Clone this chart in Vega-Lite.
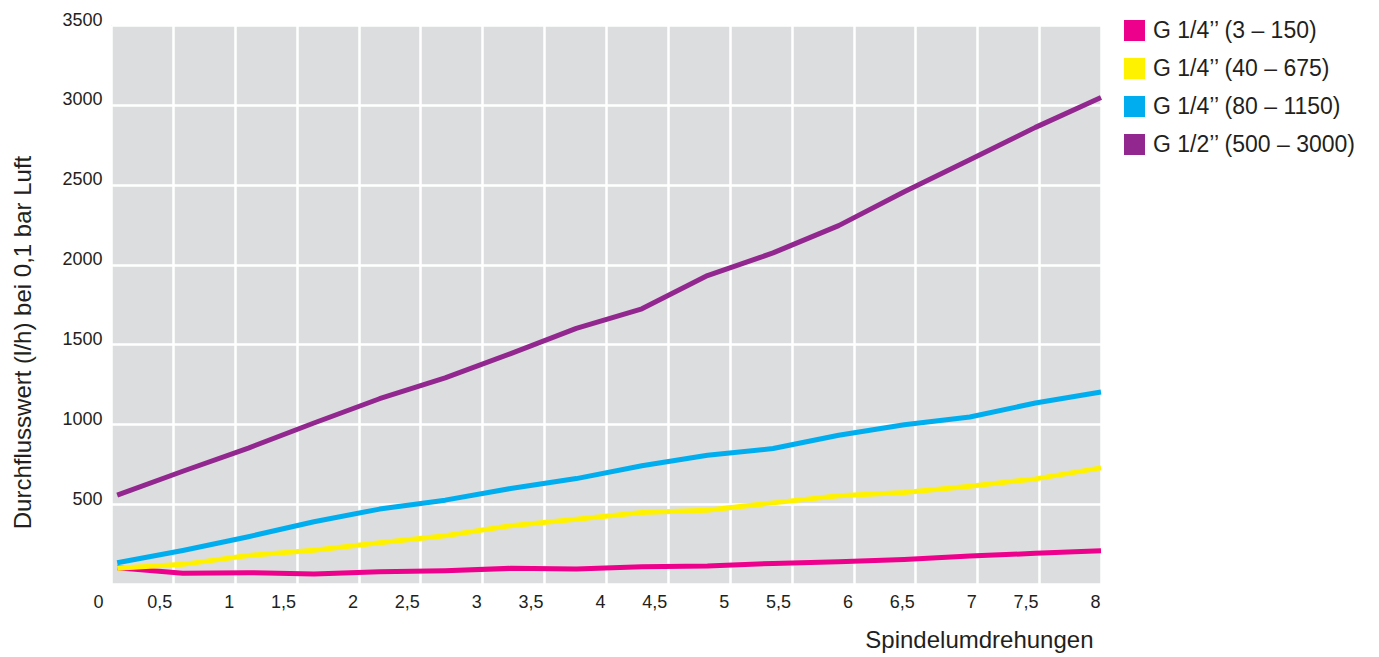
{
  "$schema": "https://vega.github.io/schema/vega-lite/v6.json",
  "width": 990,
  "height": 559,
  "autosize": {"type": "none"},
  "padding": {"left": 111, "top": 25, "right": 278, "bottom": 73},
  "background": "white",
  "config": {
    "font": "Liberation Sans",
    "view": {"fill": "#DCDDDF", "stroke": null}
  },
  "data": {
    "values": [
      {"s": "G 1/4’’ (3 – 150)", "x": 0.05, "y": 102},
      {"s": "G 1/4’’ (3 – 150)", "x": 0.58, "y": 67},
      {"s": "G 1/4’’ (3 – 150)", "x": 1.11, "y": 71},
      {"s": "G 1/4’’ (3 – 150)", "x": 1.64, "y": 62},
      {"s": "G 1/4’’ (3 – 150)", "x": 2.17, "y": 77},
      {"s": "G 1/4’’ (3 – 150)", "x": 2.70, "y": 83},
      {"s": "G 1/4’’ (3 – 150)", "x": 3.23, "y": 98},
      {"s": "G 1/4’’ (3 – 150)", "x": 3.76, "y": 94},
      {"s": "G 1/4’’ (3 – 150)", "x": 4.29, "y": 108},
      {"s": "G 1/4’’ (3 – 150)", "x": 4.82, "y": 112},
      {"s": "G 1/4’’ (3 – 150)", "x": 5.35, "y": 129},
      {"s": "G 1/4’’ (3 – 150)", "x": 5.88, "y": 140},
      {"s": "G 1/4’’ (3 – 150)", "x": 6.41, "y": 154},
      {"s": "G 1/4’’ (3 – 150)", "x": 6.94, "y": 175},
      {"s": "G 1/4’’ (3 – 150)", "x": 7.47, "y": 192},
      {"s": "G 1/4’’ (3 – 150)", "x": 8.0, "y": 208},
      {"s": "G 1/4’’ (40 – 675)", "x": 0.05, "y": 98},
      {"s": "G 1/4’’ (40 – 675)", "x": 0.58, "y": 123},
      {"s": "G 1/4’’ (40 – 675)", "x": 1.11, "y": 179},
      {"s": "G 1/4’’ (40 – 675)", "x": 1.64, "y": 212},
      {"s": "G 1/4’’ (40 – 675)", "x": 2.17, "y": 258},
      {"s": "G 1/4’’ (40 – 675)", "x": 2.70, "y": 302},
      {"s": "G 1/4’’ (40 – 675)", "x": 3.23, "y": 365},
      {"s": "G 1/4’’ (40 – 675)", "x": 3.76, "y": 406},
      {"s": "G 1/4’’ (40 – 675)", "x": 4.29, "y": 448},
      {"s": "G 1/4’’ (40 – 675)", "x": 4.82, "y": 462},
      {"s": "G 1/4’’ (40 – 675)", "x": 5.35, "y": 508},
      {"s": "G 1/4’’ (40 – 675)", "x": 5.88, "y": 552},
      {"s": "G 1/4’’ (40 – 675)", "x": 6.41, "y": 573},
      {"s": "G 1/4’’ (40 – 675)", "x": 6.94, "y": 612},
      {"s": "G 1/4’’ (40 – 675)", "x": 7.47, "y": 658},
      {"s": "G 1/4’’ (40 – 675)", "x": 8.0, "y": 727},
      {"s": "G 1/4’’ (80 – 1150)", "x": 0.05, "y": 133},
      {"s": "G 1/4’’ (80 – 1150)", "x": 0.58, "y": 210},
      {"s": "G 1/4’’ (80 – 1150)", "x": 1.11, "y": 296},
      {"s": "G 1/4’’ (80 – 1150)", "x": 1.64, "y": 390},
      {"s": "G 1/4’’ (80 – 1150)", "x": 2.17, "y": 469},
      {"s": "G 1/4’’ (80 – 1150)", "x": 2.70, "y": 525},
      {"s": "G 1/4’’ (80 – 1150)", "x": 3.23, "y": 598},
      {"s": "G 1/4’’ (80 – 1150)", "x": 3.76, "y": 660},
      {"s": "G 1/4’’ (80 – 1150)", "x": 4.29, "y": 740},
      {"s": "G 1/4’’ (80 – 1150)", "x": 4.82, "y": 806},
      {"s": "G 1/4’’ (80 – 1150)", "x": 5.35, "y": 848},
      {"s": "G 1/4’’ (80 – 1150)", "x": 5.88, "y": 931},
      {"s": "G 1/4’’ (80 – 1150)", "x": 6.41, "y": 997},
      {"s": "G 1/4’’ (80 – 1150)", "x": 6.94, "y": 1046},
      {"s": "G 1/4’’ (80 – 1150)", "x": 7.47, "y": 1133},
      {"s": "G 1/4’’ (80 – 1150)", "x": 8.0, "y": 1202},
      {"s": "G 1/2’’ (500 – 3000)", "x": 0.05, "y": 556},
      {"s": "G 1/2’’ (500 – 3000)", "x": 0.58, "y": 706},
      {"s": "G 1/2’’ (500 – 3000)", "x": 1.11, "y": 851},
      {"s": "G 1/2’’ (500 – 3000)", "x": 1.64, "y": 1008},
      {"s": "G 1/2’’ (500 – 3000)", "x": 2.17, "y": 1160},
      {"s": "G 1/2’’ (500 – 3000)", "x": 2.70, "y": 1290},
      {"s": "G 1/2’’ (500 – 3000)", "x": 3.23, "y": 1442},
      {"s": "G 1/2’’ (500 – 3000)", "x": 3.76, "y": 1600},
      {"s": "G 1/2’’ (500 – 3000)", "x": 4.29, "y": 1723},
      {"s": "G 1/2’’ (500 – 3000)", "x": 4.82, "y": 1931},
      {"s": "G 1/2’’ (500 – 3000)", "x": 5.35, "y": 2073},
      {"s": "G 1/2’’ (500 – 3000)", "x": 5.88, "y": 2244},
      {"s": "G 1/2’’ (500 – 3000)", "x": 6.41, "y": 2456},
      {"s": "G 1/2’’ (500 – 3000)", "x": 6.94, "y": 2656},
      {"s": "G 1/2’’ (500 – 3000)", "x": 7.47, "y": 2859},
      {"s": "G 1/2’’ (500 – 3000)", "x": 8.0, "y": 3046}
    ]
  },
  "mark": {"type": "line", "strokeWidth": 5, "strokeCap": "butt", "strokeJoin": "round"},
  "encoding": {
    "x": {
      "field": "x",
      "type": "quantitative",
      "scale": {"domain": [0, 8], "nice": false, "zero": false},
      "axis": {
        "title": "Spindelumdrehungen",
        "values": [0, 0.5, 1, 1.5, 2, 2.5, 3, 3.5, 4, 4.5, 5, 5.5, 6, 6.5, 7, 7.5, 8],
        "labelExpr": "replace(toString(datum.value), '.', ',')",
        "domain": false,
        "ticks": false,
        "tickSize": 0,
        "grid": true,
        "gridColor": "white",
        "gridWidth": 2.5,
        "gridOpacity": 1,
        "labelFlush": false,
        "labelOverlap": false,
        "labelBound": false,
        "labelAlign": "right",
        "labelBaseline": "alphabetic",
        "labelPadding": 23,
        "labelOffset": {"condition": {"test": "datum.value === 0", "value": -8}, "value": -1},
        "labelFontSize": 18,
        "labelColor": "#231F20",
        "titleFontSize": 24,
        "titleFontWeight": "normal",
        "titleColor": "#231F20",
        "titleAlign": "right",
        "titleBaseline": "alphabetic",
        "titleX": 982,
        "titleY": 63
      }
    },
    "y": {
      "field": "y",
      "type": "quantitative",
      "scale": {"domain": [0, 3500], "nice": false},
      "axis": {
        "title": "Durchflusswert (l/h) bei 0,1 bar Luft",
        "values": [0, 500, 1000, 1500, 2000, 2500, 3000, 3500],
        "labelExpr": "datum.value === 0 ? '' : toString(datum.value)",
        "domain": false,
        "ticks": false,
        "tickSize": 0,
        "grid": true,
        "gridColor": "white",
        "gridWidth": 2.5,
        "gridOpacity": 1,
        "labelFlush": false,
        "labelOverlap": false,
        "labelBound": false,
        "labelAlign": "right",
        "labelBaseline": "alphabetic",
        "labelPadding": 9,
        "labelFontSize": 18,
        "labelColor": "#231F20",
        "titleFontSize": 24,
        "titleFontWeight": "normal",
        "titleColor": "#231F20",
        "titleAngle": -90,
        "titleAlign": "center",
        "titleBaseline": "alphabetic",
        "titleX": -81,
        "titleY": 317
      }
    },
    "color": {
      "field": "s",
      "type": "nominal",
      "scale": {
        "domain": ["G 1/4’’ (3 – 150)", "G 1/4’’ (40 – 675)", "G 1/4’’ (80 – 1150)", "G 1/2’’ (500 – 3000)"],
        "range": ["#EC008C", "#FFF200", "#00AEEF", "#92278F"]
      },
      "legend": {
        "title": null,
        "orient": "none",
        "legendX": 1012,
        "legendY": -6,
        "symbolType": "square",
        "symbolSize": 441,
        "symbolOpacity": 1,
        "labelFontSize": 23,
        "labelColor": "#231F20",
        "labelOffset": 7,
        "labelLimit": 400,
        "rowPadding": 14,
        "padding": 0,
        "encode": {
          "symbols": {
            "update": {
              "fill": {"scale": "color", "field": "value"},
              "fillOpacity": {"value": 1},
              "stroke": {"value": "transparent"},
              "strokeWidth": {"value": 0}
            }
          }
        }
      }
    }
  }
}
